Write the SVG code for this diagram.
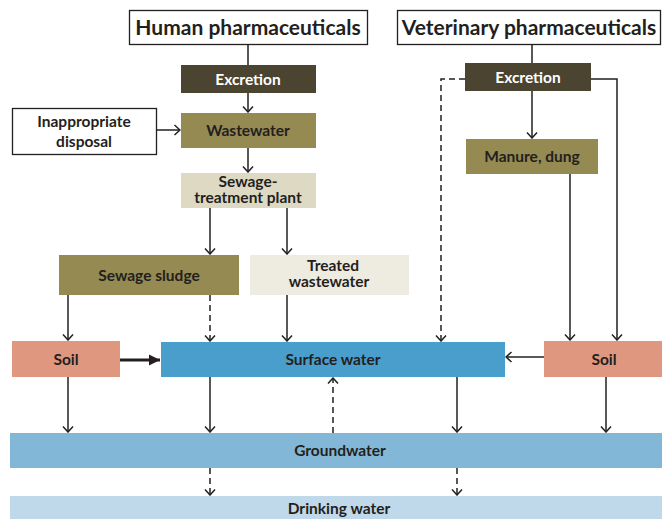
<svg xmlns="http://www.w3.org/2000/svg" width="662" height="519" viewBox="0 0 662 519">
<defs>
<style>
text{font-family:Lato,"Liberation Sans",sans-serif;font-weight:700;fill:#231f20;text-anchor:middle;}
.t{font-size:21px;}
.n{font-size:15.5px;}
.w{fill:#ffffff;}
.c{fill:none;stroke:#231f20;stroke-width:1.5;}
.d{stroke-dasharray:6,4;}
</style>
<marker id="ah" viewBox="-7 -6 8 12" refX="0" refY="0" markerWidth="8" markerHeight="12" markerUnits="userSpaceOnUse" orient="auto">
<path d="M-5.5,-5 L0,0 L-5.5,5" fill="none" stroke="#231f20" stroke-width="1.5"/>
</marker>
<marker id="fh" viewBox="-12 -6 12 12" refX="0" refY="0" markerWidth="12" markerHeight="12" markerUnits="userSpaceOnUse" orient="auto">
<path d="M-11,-5.5 L0,0 L-11,5.5 Z" fill="#231f20"/>
</marker>
</defs>
<rect width="662" height="519" fill="#ffffff"/>

<g id="connectors">
<line class="c" x1="248" y1="44" x2="248" y2="65"/>
<line class="c" x1="248" y1="93" x2="248" y2="112" marker-end="url(#ah)"/>
<line class="c" x1="157" y1="130" x2="180" y2="130" marker-end="url(#ah)"/>
<line class="c" x1="248" y1="148" x2="248" y2="172" marker-end="url(#ah)"/>
<line class="c" x1="210" y1="208" x2="210" y2="254" marker-end="url(#ah)"/>
<line class="c" x1="287" y1="208" x2="287" y2="254" marker-end="url(#ah)"/>
<line class="c" x1="68" y1="295" x2="68" y2="340" marker-end="url(#ah)"/>
<line class="c d" x1="210" y1="295" x2="210" y2="341" marker-end="url(#ah)"/>
<line class="c" x1="287" y1="295" x2="287" y2="341" marker-end="url(#ah)"/>
<line x1="120" y1="360" x2="160" y2="360" stroke="#231f20" stroke-width="3.2" marker-end="url(#fh)"/>
<line class="c" x1="532" y1="44" x2="532" y2="63"/>
<line class="c" x1="532" y1="91" x2="532" y2="138" marker-end="url(#ah)"/>
<path class="c d" d="M465,79 H441 V341" marker-end="url(#ah)"/>
<path class="c" d="M591,79 H617 V340" marker-end="url(#ah)"/>
<line class="c" x1="570" y1="174" x2="570" y2="340" marker-end="url(#ah)"/>
<line class="c" x1="544" y1="357" x2="506" y2="357" marker-end="url(#ah)"/>
<line class="c" x1="68" y1="377" x2="68" y2="432" marker-end="url(#ah)"/>
<line class="c" x1="210" y1="377" x2="210" y2="432" marker-end="url(#ah)"/>
<line class="c d" x1="333" y1="433" x2="333" y2="378" marker-end="url(#ah)"/>
<line class="c" x1="457" y1="377" x2="457" y2="432" marker-end="url(#ah)"/>
<line class="c" x1="606" y1="377" x2="606" y2="432" marker-end="url(#ah)"/>
<line class="c d" x1="210" y1="468" x2="210" y2="495" marker-end="url(#ah)"/>
<line class="c d" x1="457" y1="468" x2="457" y2="495" marker-end="url(#ah)"/>
</g>

<g id="human">
<rect x="129.5" y="10.5" width="238" height="34" fill="#ffffff" stroke="#231f20" stroke-width="1.3"/>
<text class="t" x="248" y="34.5">Human pharmaceuticals</text>
</g>
<g id="excretion-human">
<rect x="181" y="65" width="135" height="28" fill="#4a4430"/>
<text class="n w" x="248" y="84.5">Excretion</text>
</g>
<g id="inappropriate">
<rect x="12.5" y="108.5" width="144" height="46" fill="#ffffff" stroke="#231f20" stroke-width="1.3"/>
<text class="n" x="84" y="127">Inappropriate</text>
<text class="n" x="84" y="147">disposal</text>
</g>
<g id="wastewater">
<rect x="181" y="113" width="135" height="35" fill="#958a52"/>
<text class="n" x="248" y="136">Wastewater</text>
</g>
<g id="stp">
<rect x="181" y="173" width="135" height="35" fill="#ddd9c3"/>
<text class="n" x="248" y="187">Sewage-</text>
<text class="n" x="248" y="203">treatment plant</text>
</g>
<g id="sludge">
<rect x="59" y="255" width="180" height="40" fill="#958a52"/>
<text class="n" x="149" y="280.5">Sewage sludge</text>
</g>
<g id="treated">
<rect x="250" y="255" width="159" height="40" fill="#eeebe1"/>
<text class="n" x="333" y="271">Treated</text>
<text class="n" x="329" y="287">wastewater</text>
</g>
<g id="soil-left">
<rect x="12" y="341" width="108" height="36" fill="#e0977f"/>
<text class="n" x="66" y="364.5">Soil</text>
</g>
<g id="surface">
<rect x="161" y="342" width="344" height="35" fill="#4a9ecb"/>
<text class="n" x="333" y="364.5">Surface water</text>
</g>
<g id="soil-right">
<rect x="544" y="341" width="118" height="36" fill="#e0977f"/>
<text class="n" x="604" y="364.5">Soil</text>
</g>
<g id="ground">
<rect x="10" y="433" width="652" height="35" fill="#82b7d8"/>
<text class="n" x="340" y="455.5">Groundwater</text>
</g>
<g id="drinking">
<rect x="10" y="496" width="652" height="23" fill="#bfd8ea"/>
<text class="n" x="339" y="513.5">Drinking water</text>
</g>
<g id="veterinary">
<rect x="397.5" y="10.5" width="263" height="34" fill="#ffffff" stroke="#231f20" stroke-width="1.3"/>
<text class="t" x="529" y="34.5">Veterinary pharmaceuticals</text>
</g>
<g id="excretion-vet">
<rect x="465" y="63" width="126" height="28" fill="#4a4430"/>
<text class="n w" x="528" y="82.5">Excretion</text>
</g>
<g id="manure">
<rect x="466" y="139" width="132" height="35" fill="#958a52"/>
<text class="n" x="532" y="162">Manure, dung</text>
</g>
</svg>
